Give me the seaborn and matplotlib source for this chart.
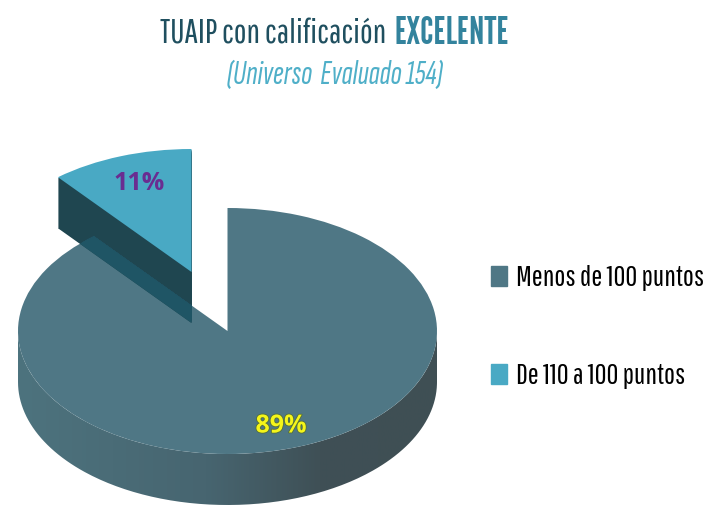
import numpy as np
import matplotlib
matplotlib.use("Agg")
import matplotlib.pyplot as plt
import matplotlib.patheffects as pe
from matplotlib.patches import Patch
from matplotlib.path import Path
from matplotlib.colors import LinearSegmentedColormap
import seaborn as sns

categories = ["De 110 a 100 puntos", "Menos de 100 puntos"]
values = [11, 89]
labels = ["11%", "89%"]
title_start = "TUAIP con calificación"
title_end = "EXCELENTE"
subtitle = "(Universo  Evaluado 154)"

sky = "#49a9c4"
slate = "#4f7785"
dark_face = "#1f4650"
overlap_face = "#1f5565"

sns.set_theme(style="white")
narrow = ["Pathway Gothic One", "Archivo Narrow", "Liberation Sans", "DejaVu Sans"]
narrow_alt = ["Sofia Sans Extra Condensed", "Archivo Narrow", "Liberation Sans", "DejaVu Sans"]
narrow_bold = ["League Gothic", "Archivo Narrow", "Liberation Sans", "DejaVu Sans"]
plt.rcParams["font.family"] = narrow

W, H = 710, 505
fig, ax = plt.subplots(figsize=(W / 100, H / 100), dpi=100)
fig.subplots_adjust(0, 0, 1, 1)

# 1 data unit is one radius, the y scale squashes the pie into an ellipse
cx, cy, rx, ry = 227.5, 331, 209.5, 123
depth = 51
offset = (-36 / rx, 59 / ry)  # pulled out slice
xlim = (-cx / rx, (W - cx) / rx)
ylim = ((cy - H) / ry, cy / ry)


def draw_pie(center=(0, 0), color=slate, keep=1, zorder=2):
    wedges, _ = ax.pie(values, startangle=90, center=center, colors=[color, color],
                       radius=1, frame=True)
    wedges[1 - keep].set_visible(False)
    wedges[keep].set_zorder(zorder)
    wedges[keep].set_linewidth(0)
    return wedges[keep]


# side of the big slice, horizontal gradient clipped to the front band
t = np.linspace(np.pi, 2 * np.pi, 200)
band_x = np.r_[np.cos(t), np.cos(t[::-1])]
band_y = np.r_[np.sin(t) - depth / ry, np.sin(t[::-1])]
band = Path(np.c_[band_x, band_y])
cmap = LinearSegmentedColormap.from_list("side", [(0, "#4d737e"), (0.45, "#476570"),
                                                  (0.72, "#3f5056"), (1, "#3f4f54")])
img = ax.imshow(np.linspace(0, 1, 256)[None, :], extent=(-1, 1, -2, 1), cmap=cmap,
                aspect="auto", zorder=1)
img.set_clip_path(band, transform=ax.transData)

big_top = draw_pie(color=slate, keep=1, zorder=3)

# side of the pulled out slice, stacked layers
for d in range(depth, 0, -1):
    draw_pie((offset[0], offset[1] - d / ry), dark_face, keep=0, zorder=4)
    over = draw_pie((offset[0], offset[1] - d / ry), overlap_face, keep=0, zorder=5)
    over.set_clip_on(True)  # pie turns clipping off
    over.set_clip_path(big_top)

draw_pie(offset, sky, keep=0, zorder=6)

ax.set_aspect("auto")
ax.set_xlim(xlim)
ax.set_ylim(ylim)
ax.axis("off")

label_font = dict(family=["Open Sans", "DejaVu Sans"], fontsize=18, fontweight="bold",
                  ha="center", va="center", zorder=8)
ax.text((139 - cx) / rx, (cy - 184) / ry, labels[0], color="#6a2c91", **label_font)
ax.text((281 - cx) / rx, (cy - 426) / ry, labels[1], color="#f5f51a",
        path_effects=[pe.withStroke(linewidth=1.2, foreground="#55703a")], **label_font)

fig.text(160 / W, 1 - 44 / H, title_start, color="#1f4f5f", fontsize=24.5, ha="left", va="baseline")
fig.text(395 / W, 1 - 44 / H, title_end, color="#33839d", fontsize=27,
         family=narrow_bold, ha="left", va="baseline")
fig.text(335 / W, 1 - 84 / H, subtitle, color="#4fafc8", fontsize=24, style="italic",
         family=narrow_alt, ha="center", va="baseline")

handles = [Patch(color=slate), Patch(color=sky)]
ax.legend(handles, categories[::-1], loc="upper left", bbox_to_anchor=(485 / W, 1 - 259.5 / H),
          bbox_transform=fig.transFigure, frameon=False, fontsize=21, labelcolor="black",
          handlelength=0.55, handleheight=0.65, handletextpad=0.3, labelspacing=2.46,
          borderaxespad=0, borderpad=0.2)

fig.savefig("out.png", dpi=100, facecolor="white")
